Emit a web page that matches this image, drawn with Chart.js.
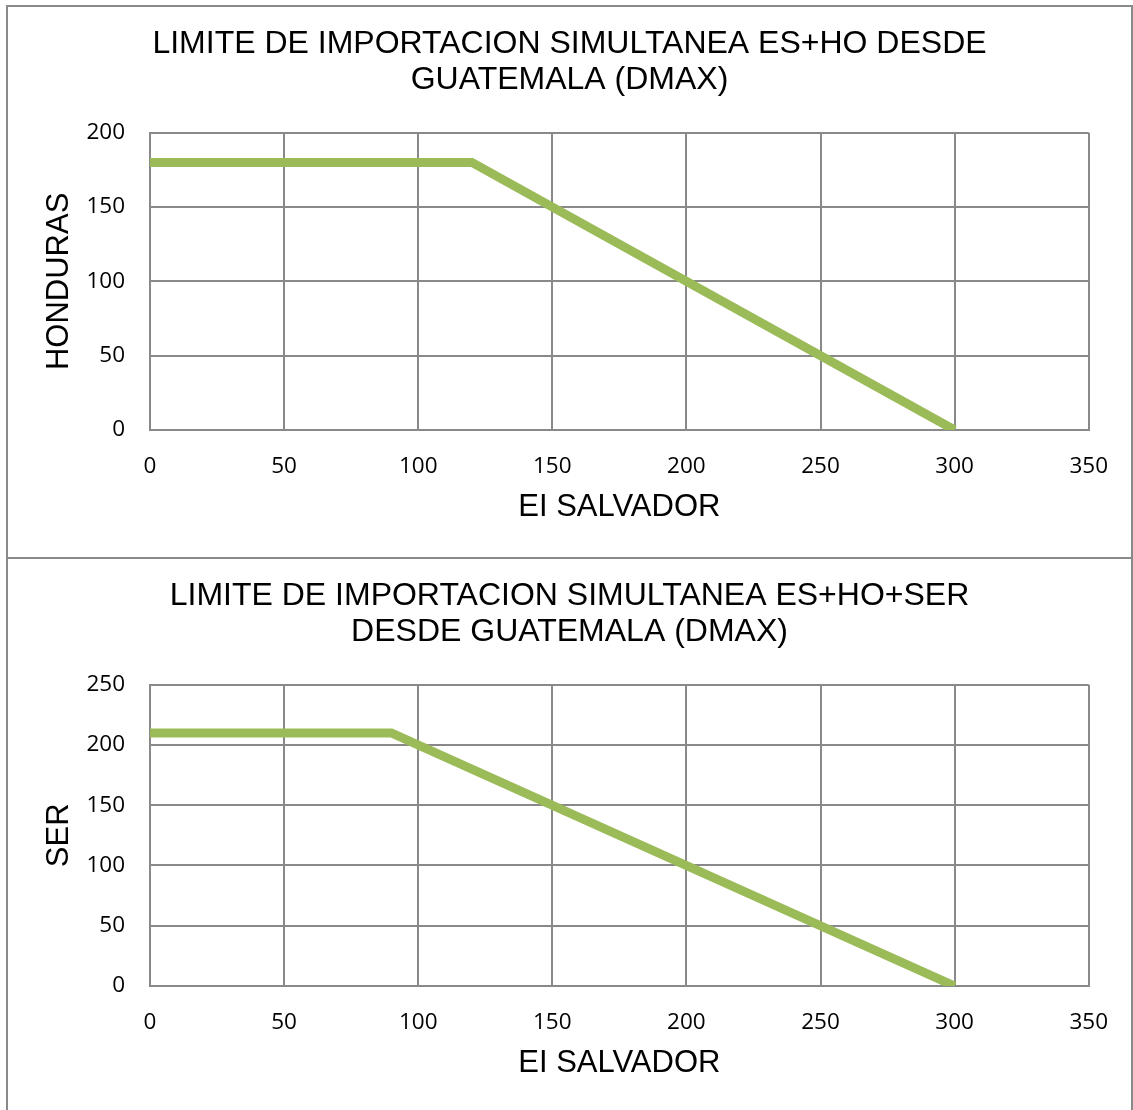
<!DOCTYPE html>
<html>
<head>
<meta charset="utf-8">
<script src="https://cdn.jsdelivr.net/npm/chart.js@4/dist/chart.umd.min.js"></script>
<style>
  html, body { margin: 0; padding: 0; background: #fff; }
  .caja { position: absolute; box-sizing: border-box; border: 2px solid #898989; background: #fff; overflow: hidden; }
  #caja1 { left: 6px; top: 5px; width: 1127px; height: 554px; }
  #caja2 { left: 6px; top: 557px; width: 1127px; height: 560px; }
  canvas { display: block; }
</style>
</head>
<body>
<div class="caja" id="caja1"><canvas id="grafico1" width="1123" height="550"></canvas></div>
<div class="caja" id="caja2"><canvas id="grafico2" width="1123" height="553"></canvas></div>
<script>
// Datos
const elSalvador1 = [0, 120, 300];
const honduras = [180, 180, 0];
const elSalvador2 = [0, 90, 300];
const ser = [210, 210, 0];

const titulo1 = ["LIMITE DE IMPORTACION SIMULTANEA ES+HO DESDE", "GUATEMALA (DMAX)"];
const titulo2 = ["LIMITE DE IMPORTACION SIMULTANEA ES+HO+SER", "DESDE GUATEMALA (DMAX)"];
const tituloX = "EI SALVADOR";

const xMax = 350, paso = 50;

const VERDE = "#9bbb59";
const GRIS = "#898989";
const fuenteArial = "'Liberation Sans', Arial, sans-serif";
const fuenteTicks = "'Open Sans', 'Noto Sans', sans-serif";

function puntos(xs, ys) {
  return xs.map((x, i) => ({ x: x, y: ys[i] }));
}

// padding izquierdo para que el titulo quede centrado en la caja
const PAD_IZQ = 40;

function crearGrafico(canvasId, titulo, xs, ys, nombreY, yMax, cfg) {
  const ctx = document.getElementById(canvasId);
  return new Chart(ctx, {
    type: "scatter",
    data: {
      datasets: [{
        data: puntos(xs, ys),
        showLine: true,
        borderColor: VERDE,
        backgroundColor: VERDE,
        borderWidth: 9,
        pointRadius: 0,
        tension: 0,
        clip: 0
      }]
    },
    options: {
      responsive: false,
      animation: false,
      layout: { padding: { left: PAD_IZQ, right: 40, top: 0, bottom: 0 } },
      plugins: {
        legend: { display: false },
        tooltip: { enabled: false },
        title: {
          display: true,
          text: titulo,
          color: "#000",
          font: { family: fuenteArial, size: 32, weight: "normal", lineHeight: 1.12 },
          padding: { top: 19, bottom: 35 }
        }
      },
      scales: {
        x: {
          type: "linear",
          min: 0,
          max: xMax,
          afterFit: (s) => { s.height = cfg.altoX; },
          ticks: { stepSize: paso, color: "#000", padding: 23, font: { family: fuenteTicks, size: 22.5 } },
          grid: { color: GRIS, lineWidth: 2, drawTicks: false },
          border: { color: GRIS, width: 2 },
          title: {
            display: true,
            text: tituloX,
            color: "#000",
            font: { family: fuenteArial, size: 31, lineHeight: 1.2 },
            padding: { top: 0, bottom: cfg.padTituloX }
          }
        },
        y: {
          min: 0,
          max: yMax,
          afterFit: (s) => { s.width = 142 - PAD_IZQ; },
          ticks: { stepSize: paso, color: "#000", padding: 25, font: { family: fuenteTicks, size: 22.5 } },
          grid: { color: GRIS, lineWidth: 2, drawTicks: false },
          border: { color: GRIS, width: 2 },
          title: {
            display: true,
            text: nombreY,
            color: "#000",
            font: { family: fuenteArial, size: 31, lineHeight: 1.2 },
            padding: { top: 51 - PAD_IZQ - 18.6, bottom: 0 }
          }
        }
      }
    }
  });
}

crearGrafico("grafico1", titulo1, elSalvador1, honduras, "HONDURAS", 200, { altoX: 127, padTituloX: 31 });
crearGrafico("grafico2", titulo2, elSalvador2, ser, "SER", 250, { altoX: 126, padTituloX: 30 });
</script>
</body>
</html>
